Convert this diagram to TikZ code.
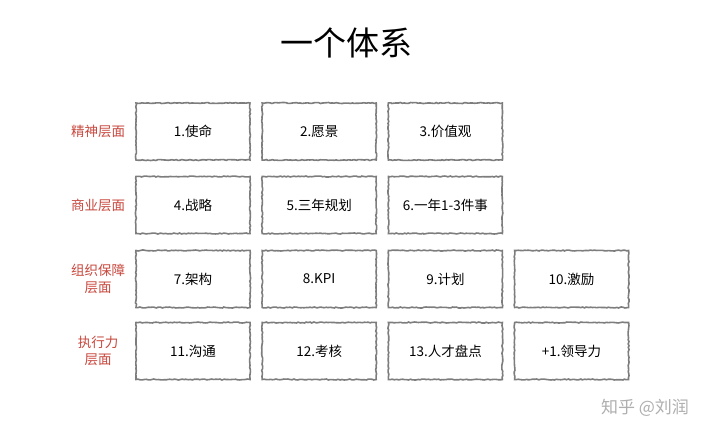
\documentclass[tikz,border=0pt]{standalone}
\usepackage{fontspec}
\setmainfont{Noto Sans CJK SC}
\usetikzlibrary{decorations.pathmorphing}
\definecolor{layerred}{RGB}{200,72,62}
\definecolor{boxgray}{RGB}{125,125,125}
\definecolor{markgray}{RGB}{175,175,175}

\tikzstyle{item}=[draw=boxgray,line width=1.6pt,minimum width=114pt,minimum height=57pt,inner sep=0pt,
    font=\fontsize{13.5}{15}\selectfont,decorate,decoration={random steps,segment length=2pt,amplitude=0.5pt}]
\tikzstyle{layer}=[text=layerred,align=center,font=\fontsize{13.5}{17}\selectfont]
\tikzstyle{headline}=[font=\fontsize{33}{38}\selectfont]
\newcommand{\colgap}{126.2}

\begin{document}
\begin{tikzpicture}[x=1pt,y=-1pt]
    \useasboundingbox[fill=white] (0,0) rectangle (720,437);
    % title
    \node[headline] (title) at (346,43) {一个体系};
    % layer names on the left
    \foreach \pos/\name/\text in {{(98,131)/spirit/精神层面}, {(98,205)/business/商业层面},
        {(98,279)/support/组织保障\\层面}, {(98,351)/action/执行力\\层面}}
        \node[layer] (\name) at \pos {\text};
    % the boxes, row by row
    \foreach \col/\name/\text in {0/mission/1.使命, 1/vision/2.愿景, 2/values/3.价值观}
        \node[item] (\name) at (193+\col*\colgap,131.5) {\text};
    \foreach \col/\name/\text in {0/strategy/4.战略, 1/plan3y/5.三年规划, 2/plan1y/6.一年1-3件事}
        \node[item] (\name) at (193+\col*\colgap,205) {\text};
    \foreach \col/\name/\text in {0/structure/7.架构, 1/kpi/8.KPI, 2/planning/9.计划, 3/incentive/10.激励}
        \node[item] (\name) at (193+\col*\colgap,279) {\text};
    \foreach \col/\name/\text in {0/talk/11.沟通, 1/review/12.考核, 2/talent/13.人才盘点, 3/lead/+1.领导力}
        \node[item] (\name) at (193+\col*\colgap,351) {\text};
    % watermark
    \node[text=markgray,font=\fontsize{17}{20}\selectfont] (mark) at (645,408) {知乎 @刘润};
\end{tikzpicture}
\end{document}
